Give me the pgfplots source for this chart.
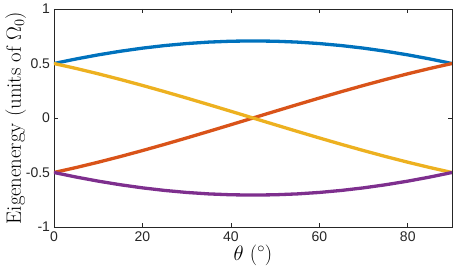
\documentclass[border=0pt]{standalone}
\usepackage{fontspec}
\usepackage{pgfplots}
\pgfplotsset{compat=1.18}
\newfontfamily\ticksf{Liberation Sans}
\definecolor{mblue}{rgb}{0,0.447,0.741}
\definecolor{morange}{rgb}{0.850,0.325,0.098}
\definecolor{myellow}{rgb}{0.929,0.694,0.125}
\definecolor{mpurple}{rgb}{0.494,0.184,0.556}
\definecolor{axgray}{rgb}{0.15,0.15,0.15}
\begin{document}
\begin{tikzpicture}
\begin{axis}[
  scale only axis,
  width=398pt, height=218pt,
  xmin=0, xmax=90, ymin=-1, ymax=1,
  xtick={0,20,40,60,80},
  xticklabels={0,20,40,60,80},
  ytick={-1,-0.5,0,0.5,1},
  yticklabels={-1,-0.5,0,0.5,1},
  tick label style={font=\ticksf\fontsize{14}{16}\selectfont, text=axgray},
  xticklabel style={yshift=-1pt},
  yticklabel style={xshift=-0.5pt},
  tick align=inside,
  major tick length=4pt,
  axis line style={axgray, line width=0.6pt},
  every tick/.style={axgray, line width=0.6pt},
  xlabel={$\theta$ $(^\circ)$},
  ylabel={Eigenenergy (units of $\Omega_0$)},
  x label style={at={(axis description cs:0.5,-0.128)}, anchor=center, font=\huge},
  y label style={at={(axis description cs:-0.096,0.5)}, anchor=center, font=\huge},
  every axis plot/.append style={line width=3.3pt, line join=round},
]
\addplot[mblue] coordinates {
(0,0.5) (5,0.54168) (10,0.57923) (15,0.61237) (20,0.64086) (25,0.66446) (30,0.68301) (35,0.69636) (40,0.70441) (45,0.70711)
(50,0.70441) (55,0.69636) (60,0.68301) (65,0.66446) (70,0.64086) (75,0.61237) (80,0.57923) (85,0.54168) (90,0.5)
};
\addplot[morange] coordinates {
(0,-0.5) (5,-0.45452) (10,-0.40558) (15,-0.35355) (20,-0.29884) (25,-0.24185) (30,-0.18301) (35,-0.12279) (40,-0.06163) (45,0)
(50,0.06163) (55,0.12279) (60,0.18301) (65,0.24185) (70,0.29884) (75,0.35355) (80,0.40558) (85,0.45452) (90,0.5)
};
\addplot[myellow] coordinates {
(0,0.5) (5,0.45452) (10,0.40558) (15,0.35355) (20,0.29884) (25,0.24185) (30,0.18301) (35,0.12279) (40,0.06163) (45,0)
(50,-0.06163) (55,-0.12279) (60,-0.18301) (65,-0.24185) (70,-0.29884) (75,-0.35355) (80,-0.40558) (85,-0.45452) (90,-0.5)
};
\addplot[mpurple] coordinates {
(0,-0.5) (5,-0.54168) (10,-0.57923) (15,-0.61237) (20,-0.64086) (25,-0.66446) (30,-0.68301) (35,-0.69636) (40,-0.70441) (45,-0.70711)
(50,-0.70441) (55,-0.69636) (60,-0.68301) (65,-0.66446) (70,-0.64086) (75,-0.61237) (80,-0.57923) (85,-0.54168) (90,-0.5)
};
\end{axis}
\path (-54pt,-44pt) rectangle (415pt,227pt);
\end{tikzpicture}
\end{document}
